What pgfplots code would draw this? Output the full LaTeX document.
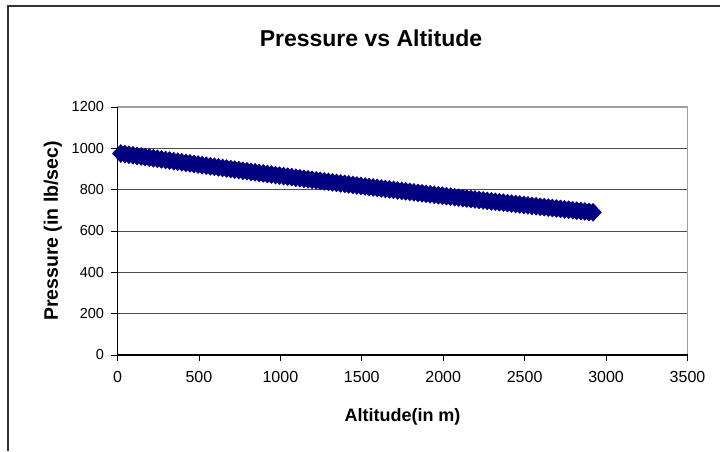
\documentclass[border=0pt]{standalone}
\usepackage{pgfplots}
\pgfplotsset{compat=1.18}
\usepackage{fontspec}
\setmainfont{Liberation Sans}
\definecolor{navy}{RGB}{0,0,128}

\begin{document}
\begin{tikzpicture}[x=1pt,y=1pt]
\path[use as bounding box] (0,0) rectangle (720,451);
% chart frame
\draw[black!80, line width=1.5pt] (8,0) -- (8,445) -- (721,445);
\node[font=\bfseries\fontsize{23}{27}\selectfont] at (371,413) {Pressure vs Altitude};

\begin{axis}[
    at={(117.5pt,96pt)},
    anchor=south west,
    scale only axis,
    width=570pt,
    height=248pt,
    xmin=0, xmax=3500,
    ymin=0, ymax=1200,
    xtick={0,500,...,3500},
    ytick={0,200,...,1200},
    xtick pos=left, ytick pos=left,
    tick align=outside,
    major tick length=6pt,
    tick style={black, line width=0.8pt},
    axis line style={gray!75, line width=1.6pt},
    ymajorgrids=true,
    grid style={black!70, line width=0.9pt},
    xticklabel style={font=\fontsize{16}{19}\selectfont, yshift=-7pt},
    yticklabel style={font=\fontsize{14.5}{17}\selectfont, xshift=-4pt},
    /pgf/number format/assume math mode=true,
    /pgf/number format/1000 sep={},
    xlabel={Altitude(in m)},
    ylabel={Pressure (in lb/sec)},
    xlabel style={font=\bfseries\fontsize{18}{21}\selectfont, yshift=-19pt},
    ylabel style={font=\bfseries\fontsize{19.5}{23}\selectfont, yshift=3pt},
    clip=false,
]
% altitude (m), pressure
\addplot[only marks, mark=diamond*, mark size=9pt,
         mark options={xscale=1.25, navy, fill=navy}] coordinates {
(20,975.0) (45,972.1) (70,969.2) (95,966.4) (120,963.5) (145,960.7)
(170,957.8) (195,955.0) (220,952.1) (245,949.3) (270,946.4) (295,943.6)
(320,940.8) (345,938.0) (370,935.2) (395,932.5) (420,929.7) (445,927.0)
(470,924.2) (495,921.5) (520,918.7) (545,916.0) (570,913.2) (595,910.5)
(620,907.7) (645,905.1) (670,902.4) (695,899.7) (720,897.0) (745,894.4)
(770,891.7) (795,889.1) (820,886.4) (845,883.8) (870,881.1) (895,878.5)
(920,875.9) (945,873.3) (970,870.7) (995,868.1) (1020,865.5) (1045,863.0)
(1070,860.4) (1095,857.9) (1120,855.3) (1145,852.8) (1170,850.2) (1195,847.7)
(1220,845.2) (1245,842.7) (1270,840.2) (1295,837.7) (1320,835.2) (1345,832.7)
(1370,830.2) (1395,827.8) (1420,825.3) (1445,822.9) (1470,820.4) (1495,818.0)
(1520,815.5) (1545,813.1) (1570,810.7) (1595,808.3) (1620,805.9) (1645,803.5)
(1670,801.1) (1695,798.7) (1720,796.3) (1745,794.0) (1770,791.6) (1795,789.3)
(1820,786.9) (1845,784.6) (1870,782.2) (1895,779.9) (1920,777.6) (1945,775.3)
(1970,773.0) (1995,770.7) (2020,768.4) (2045,766.1) (2070,763.8) (2095,761.6)
(2120,759.3) (2145,757.1) (2170,754.8) (2195,752.6) (2220,750.3) (2245,748.1)
(2270,745.8) (2295,743.6) (2320,741.4) (2345,739.2) (2370,737.0) (2395,734.8)
(2420,732.6) (2445,730.5) (2470,728.3) (2495,726.2) (2520,724.0) (2545,721.9)
(2570,719.7) (2595,717.6) (2620,715.4) (2645,713.3) (2670,711.2) (2695,709.1)
(2720,707.0) (2745,704.9) (2770,702.8) (2795,700.7) (2820,698.6) (2845,696.6)
(2870,694.5) (2895,692.5) (2920,690.4)
};
\draw[black, line width=1.4pt] (rel axis cs:0,1) -- (rel axis cs:0,0) -- (rel axis cs:1,0);
\end{axis}
\end{tikzpicture}
\end{document}
